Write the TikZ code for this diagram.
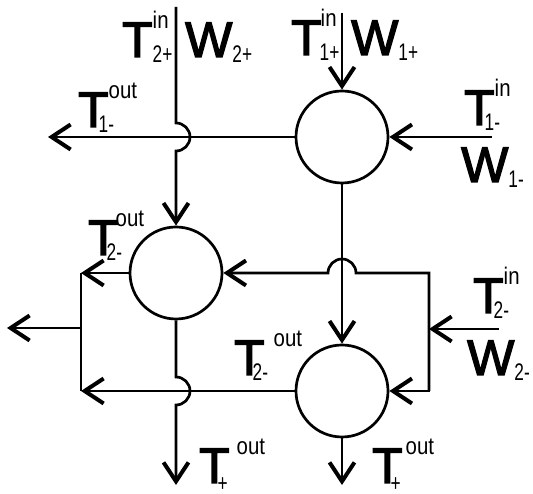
\documentclass[tikz,border=0pt]{standalone}
\usepackage{fontspec}
\setmainfont{Liberation Sans}
\newfontfamily\labfont[FakeBold=2.6]{Liberation Sans}
\usetikzlibrary{arrows.meta}
\newcommand{\bigf}{\labfont\fontsize{50}{50}\selectfont}
\newcommand{\scr}{\normalfont\fontsize{24}{24}\selectfont}
\newcommand{\subs}[1]{\raisebox{-6pt}{\scalebox{0.72}[1]{\scr #1}}}
\newcommand{\sups}[1]{\raisebox{28pt}{\scalebox{0.85}[1]{\scr #1}}}
% T with a subscript and a superscript; #3 and #4 shift them horizontally
\newcommand{\Tlab}[4]{T\rlap{\kern#3\subs{#1}}\kern#4\sups{#2}}
\newcommand{\Wlab}[1]{W\subs{#1}}
\tikzset{
  x=1pt, y=1pt,
  wire/.style={line width=2.7pt},
  arr/.style={wire, -{Straight Barb[length=19pt,width=25pt,line width=4pt]}},
  mixer/.style={circle, draw, line width=2.7pt, minimum size=92pt, inner sep=0pt},
  lab/.style={inner sep=0pt, anchor=base west, font=\bigf}
}
\begin{document}
\begin{tikzpicture}
\useasboundingbox (0,0) rectangle (533,494);

% mixing nodes
\node[mixer] (c1) at (342,357) {};
\node[mixer] (c2) at (176,221) {};
\node[mixer] (c3) at (342,103) {};

% free ends of the connectors
\coordinate (in1m) at (492,357);
\coordinate (in1p) at (342,481);
\coordinate (out1m) at (48,357);
\coordinate (in2p) at (176,487);
\coordinate (rtop) at (429,221);
\coordinate (rbot) at (429,103);
\coordinate (in2m) at (499,165);
\coordinate (rmid) at (429,165);
\coordinate (ltop) at (81,221);
\coordinate (lbot) at (81,103);
\coordinate (lmid) at (81,166);
\coordinate (outL) at (7,166);
\coordinate (outB1) at (176,9);
\coordinate (outB2) at (342,9);

% connectors
\draw[arr] (in1m) -- (c1.east);
\draw[arr] (in1p) -- (c1.north);
\draw[arr] (c1.west) -- (out1m);
\draw[arr] (in2p) -- (176,371) arc[start angle=90, end angle=-90, radius=14] -- (c2.north);
\draw[arr] (c1.south) -- (c3.north);
\draw[arr] (rbot) -- (rtop) -- (356,221) arc[start angle=0, end angle=180, radius=14] -- (c2.east);
\draw[arr] (rtop) -- (rbot) -- (c3.east);
\draw[arr] (in2m) -- (rmid);
\draw[arr] (c2.west) -- (ltop);
\draw[wire] (ltop) -- (lbot);
\draw[arr] (lmid) -- (outL);
\draw[arr] (c3.west) -- (lbot);
\draw[arr] (c2.south) -- (176,117) arc[start angle=90, end angle=-90, radius=14] -- (outB1);
\draw[arr] (c3.south) -- (outB2);

% labels
\node[lab] (lt2p) at (122,437) {\Tlab{2+}{in}{0pt}{0pt}};
\node[lab] (lw2p) at (185,437) {\Wlab{2+}};
\node[lab] (lt1p) at (291,439) {\Tlab{1+}{in}{-2pt}{-1pt}};
\node[lab] (lw1p) at (351,439) {\Wlab{1+}};
\node[lab] (lt1mo) at (78,367) {\Tlab{1-}{out}{-10pt}{0pt}};
\node[lab] (lt1mi) at (464,369) {\Tlab{1-}{in}{-10pt}{0pt}};
\node[lab] (lw1m) at (461,312) {\Wlab{1-}};
\node[lab] (lt2mo) at (88,239) {\Tlab{2-}{out}{-12pt}{-3pt}};
\node[lab] (lt2mi) at (473,181) {\Tlab{2-}{in}{-10pt}{0pt}};
\node[lab] (lw2m) at (467,119) {\Wlab{2-}};
\node[lab] (lt2mb) at (234,119) {\Tlab{2-}{out}{-12pt}{9pt}};
\node[lab] (ltpl) at (199,11) {\Tlab{\raisebox{-3pt}{+}}{out}{-12pt}{7pt}};
\node[lab] (ltpr) at (372,11) {\Tlab{\raisebox{-3pt}{+}}{out}{-12pt}{3pt}};
\end{tikzpicture}
\end{document}
